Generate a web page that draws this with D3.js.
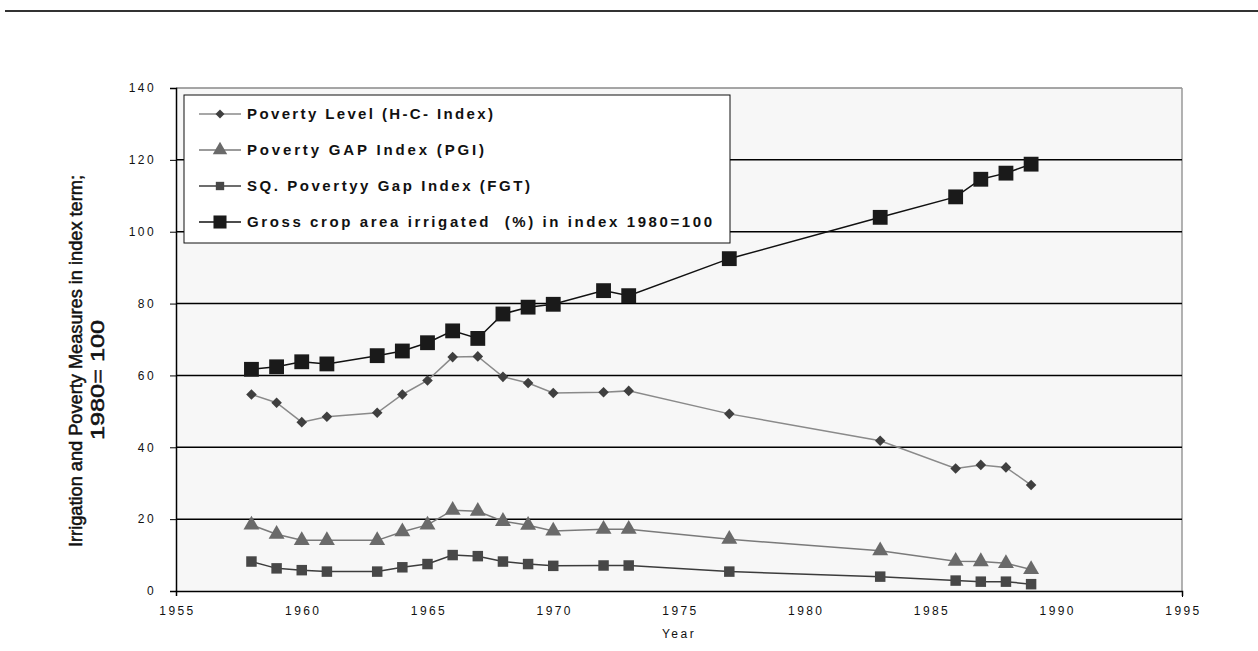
<!DOCTYPE html>
<html>
<head>
<meta charset="utf-8">
<script src="https://cdn.jsdelivr.net/npm/d3@7"></script>
<style>
  body { margin: 0; background: #fff; }
  svg text { font-family: "Liberation Sans", Arial, sans-serif; }
</style>
</head>
<body>
<div id="chart"></div>
<script>
// data
var years = [1958, 1959, 1960, 1961, 1963, 1964, 1965, 1966, 1967, 1968, 1969, 1970, 1972, 1973, 1977, 1983, 1986, 1987, 1988, 1989];
var povertyLevel = [54.7, 52.4, 47.0, 48.5, 49.6, 54.7, 58.6, 65.1, 65.3, 59.6, 57.9, 55.1, 55.3, 55.7, 49.3, 41.8, 34.1, 35.1, 34.4, 29.5];
var povertyGap = [18.4, 15.8, 14.1, 14.1, 14.1, 16.5, 18.4, 22.5, 22.2, 19.4, 18.3, 16.7, 17.2, 17.2, 14.4, 11.2, 8.3, 8.2, 7.7, 6.0];
var sqPovertyGap = [8.2, 6.3, 5.8, 5.4, 5.4, 6.6, 7.5, 10.0, 9.7, 8.2, 7.5, 7.0, 7.1, 7.1, 5.4, 4.0, 2.9, 2.6, 2.6, 1.9];
var irrigated = [61.7, 62.4, 63.8, 63.2, 65.5, 66.8, 69.1, 72.4, 70.3, 77.1, 79.0, 79.8, 83.6, 82.2, 92.5, 104.0, 109.7, 114.6, 116.3, 118.8];
var seriesNames = ["Poverty Level (H-C- Index)", "Poverty GAP Index (PGI)", "SQ. Povertyy Gap Index (FGT)", "Gross crop area irrigated  (%) in index 1980=100"];
var xTicks = [1955, 1960, 1965, 1970, 1975, 1980, 1985, 1990, 1995];
var yTicks = [0, 20, 40, 60, 80, 100, 120, 140];

var W = 1258, H = 651;
var svg = d3.select("#chart").append("svg").attr("width", W).attr("height", H);

// page rule at top
svg.append("line").attr("x1", 5).attr("x2", W).attr("y1", 11).attr("y2", 11)
    .attr("stroke", "#333").attr("stroke-width", 2);

var pLeft = 176, pRight = 1182, pTop = 88, pBottom = 591;
var x = d3.scaleLinear().domain([1955, 1995]).range([pLeft, pRight]);
var y = d3.scaleLinear().domain([0, 140]).range([pBottom, pTop]);

// plot background
svg.append("rect").attr("x", pLeft).attr("y", pTop).attr("width", pRight - pLeft).attr("height", pBottom - pTop)
    .attr("fill", "#f7f7f7");
svg.append("line").attr("x1", pLeft).attr("x2", pRight).attr("y1", pTop).attr("y2", pTop)
    .attr("stroke", "#888").attr("stroke-width", 1.5);
svg.append("line").attr("x1", pRight).attr("x2", pRight).attr("y1", pTop).attr("y2", pBottom)
    .attr("stroke", "#999").attr("stroke-width", 1.5);

// gridlines
svg.append("g").selectAll("line").data(yTicks.filter(function (d) { return d > 0 && d < 140; }))
    .enter().append("line")
    .attr("x1", pLeft).attr("x2", pRight)
    .attr("y1", function (d) { return y(d); }).attr("y2", function (d) { return y(d); })
    .attr("stroke", "#000").attr("stroke-width", 1.5);

// axes
var yAxis = svg.append("g").attr("transform", "translate(" + pLeft + ",0)")
    .call(d3.axisLeft(y).tickValues(yTicks).tickSize(6).tickPadding(14));
var xAxis = svg.append("g").attr("transform", "translate(0," + pBottom + ")")
    .call(d3.axisBottom(x).tickValues(xTicks).tickSize(5).tickPadding(10).tickFormat(d3.format("d")));
[yAxis, xAxis].forEach(function (a) {
    a.select(".domain").attr("stroke", "#000").attr("stroke-width", 1.5);
    a.selectAll(".tick line").attr("stroke", "#000");
    a.selectAll("text").attr("font-size", 12).attr("fill", "#111")
        .style("font-family", "'Liberation Sans', Arial, sans-serif").style("letter-spacing", "2.4px");
});
xAxis.selectAll(".tick line").attr("y2", function (d) { return d === 1995 ? 6 : 0; });
xAxis.selectAll(".tick text").attr("dx", "1px");

// series
function draw(values, lineColor, lineWidth) {
    var pts = years.map(function (yr, i) { return [yr, values[i]]; });
    svg.append("path").datum(pts)
        .attr("fill", "none").attr("stroke", lineColor).attr("stroke-width", lineWidth)
        .attr("d", d3.line().x(function (d) { return x(d[0]); }).y(function (d) { return y(d[1]); }));
    return pts;
}
function markers(pts, type, size, color, rot) {
    svg.append("g").selectAll("path").data(pts).enter().append("path")
        .attr("transform", function (d) { return "translate(" + x(d[0]) + "," + y(d[1]) + ") rotate(" + (rot || 0) + ")"; })
        .attr("d", d3.symbol().type(type).size(size))
        .attr("fill", color);
}

var p1 = draw(povertyLevel, "#8a8a8a", 1.5);
var p2 = draw(povertyGap, "#7a7a7a", 1.5);
var p3 = draw(sqPovertyGap, "#3c3c3c", 1.5);
var p4 = draw(irrigated, "#111", 1.5);
markers(p1, d3.symbolSquare, 56, "#3f3f3f", 45);
markers(p2, d3.symbolTriangle, 110, "#6a6a6a");
markers(p3, d3.symbolSquare, 110, "#474747");
markers(p4, d3.symbolSquare, 220, "#1a1a1a");

// legend
var lg = svg.append("g");
lg.append("rect").attr("x", 184).attr("y", 95).attr("width", 546).attr("height", 148)
    .attr("fill", "#fff").attr("stroke", "#111").attr("stroke-width", 1);
var legendStyle = [
    { sym: d3.symbolSquare, size: 40, fill: "#3f3f3f", line: "#8a8a8a", rot: 45, len: 246 },
    { sym: d3.symbolTriangle, size: 90, fill: "#6a6a6a", line: "#7a7a7a", rot: 0, len: 237 },
    { sym: d3.symbolSquare, size: 70, fill: "#474747", line: "#3c3c3c", rot: 0, len: 283 },
    { sym: d3.symbolSquare, size: 170, fill: "#1a1a1a", line: "#111", rot: 0, len: 465 }
];
seriesNames.forEach(function (name, i) {
    var ly = 114 + i * 36;
    var s = legendStyle[i];
    lg.append("line").attr("x1", 199).attr("x2", 241).attr("y1", ly).attr("y2", ly)
        .attr("stroke", s.line).attr("stroke-width", 1.5);
    lg.append("path").attr("transform", "translate(220," + ly + ") rotate(" + s.rot + ")")
        .attr("d", d3.symbol().type(s.sym).size(s.size)).attr("fill", s.fill);
    lg.append("text").attr("x", 247).attr("y", ly + 5)
        .attr("font-size", 15).attr("font-weight", "bold").attr("fill", "#111")
        .attr("textLength", s.len).attr("lengthAdjust", "spacing")
        .style("white-space", "pre")
        .text(name);
});

// axis titles
svg.append("text").attr("transform", "translate(82,361) rotate(-90)")
    .attr("text-anchor", "middle").attr("font-size", 18).attr("fill", "#111")
    .attr("stroke", "#111").attr("stroke-width", 0.5)
    .attr("textLength", 372).attr("lengthAdjust", "spacingAndGlyphs")
    .text("Irrigation and Poverty Measures in index term;");
svg.append("text").attr("transform", "translate(104,380) rotate(-90)")
    .attr("text-anchor", "middle").attr("font-size", 18).attr("fill", "#111")
    .attr("stroke", "#111").attr("stroke-width", 0.5)
    .attr("textLength", 120).attr("lengthAdjust", "spacingAndGlyphs")
    .text("1980= 100");
svg.append("text").attr("x", x(1975)).attr("y", 638)
    .attr("text-anchor", "middle").attr("font-size", 12).attr("fill", "#111")
    .style("letter-spacing", "2.5px").text("Year");
</script>
</body>
</html>
